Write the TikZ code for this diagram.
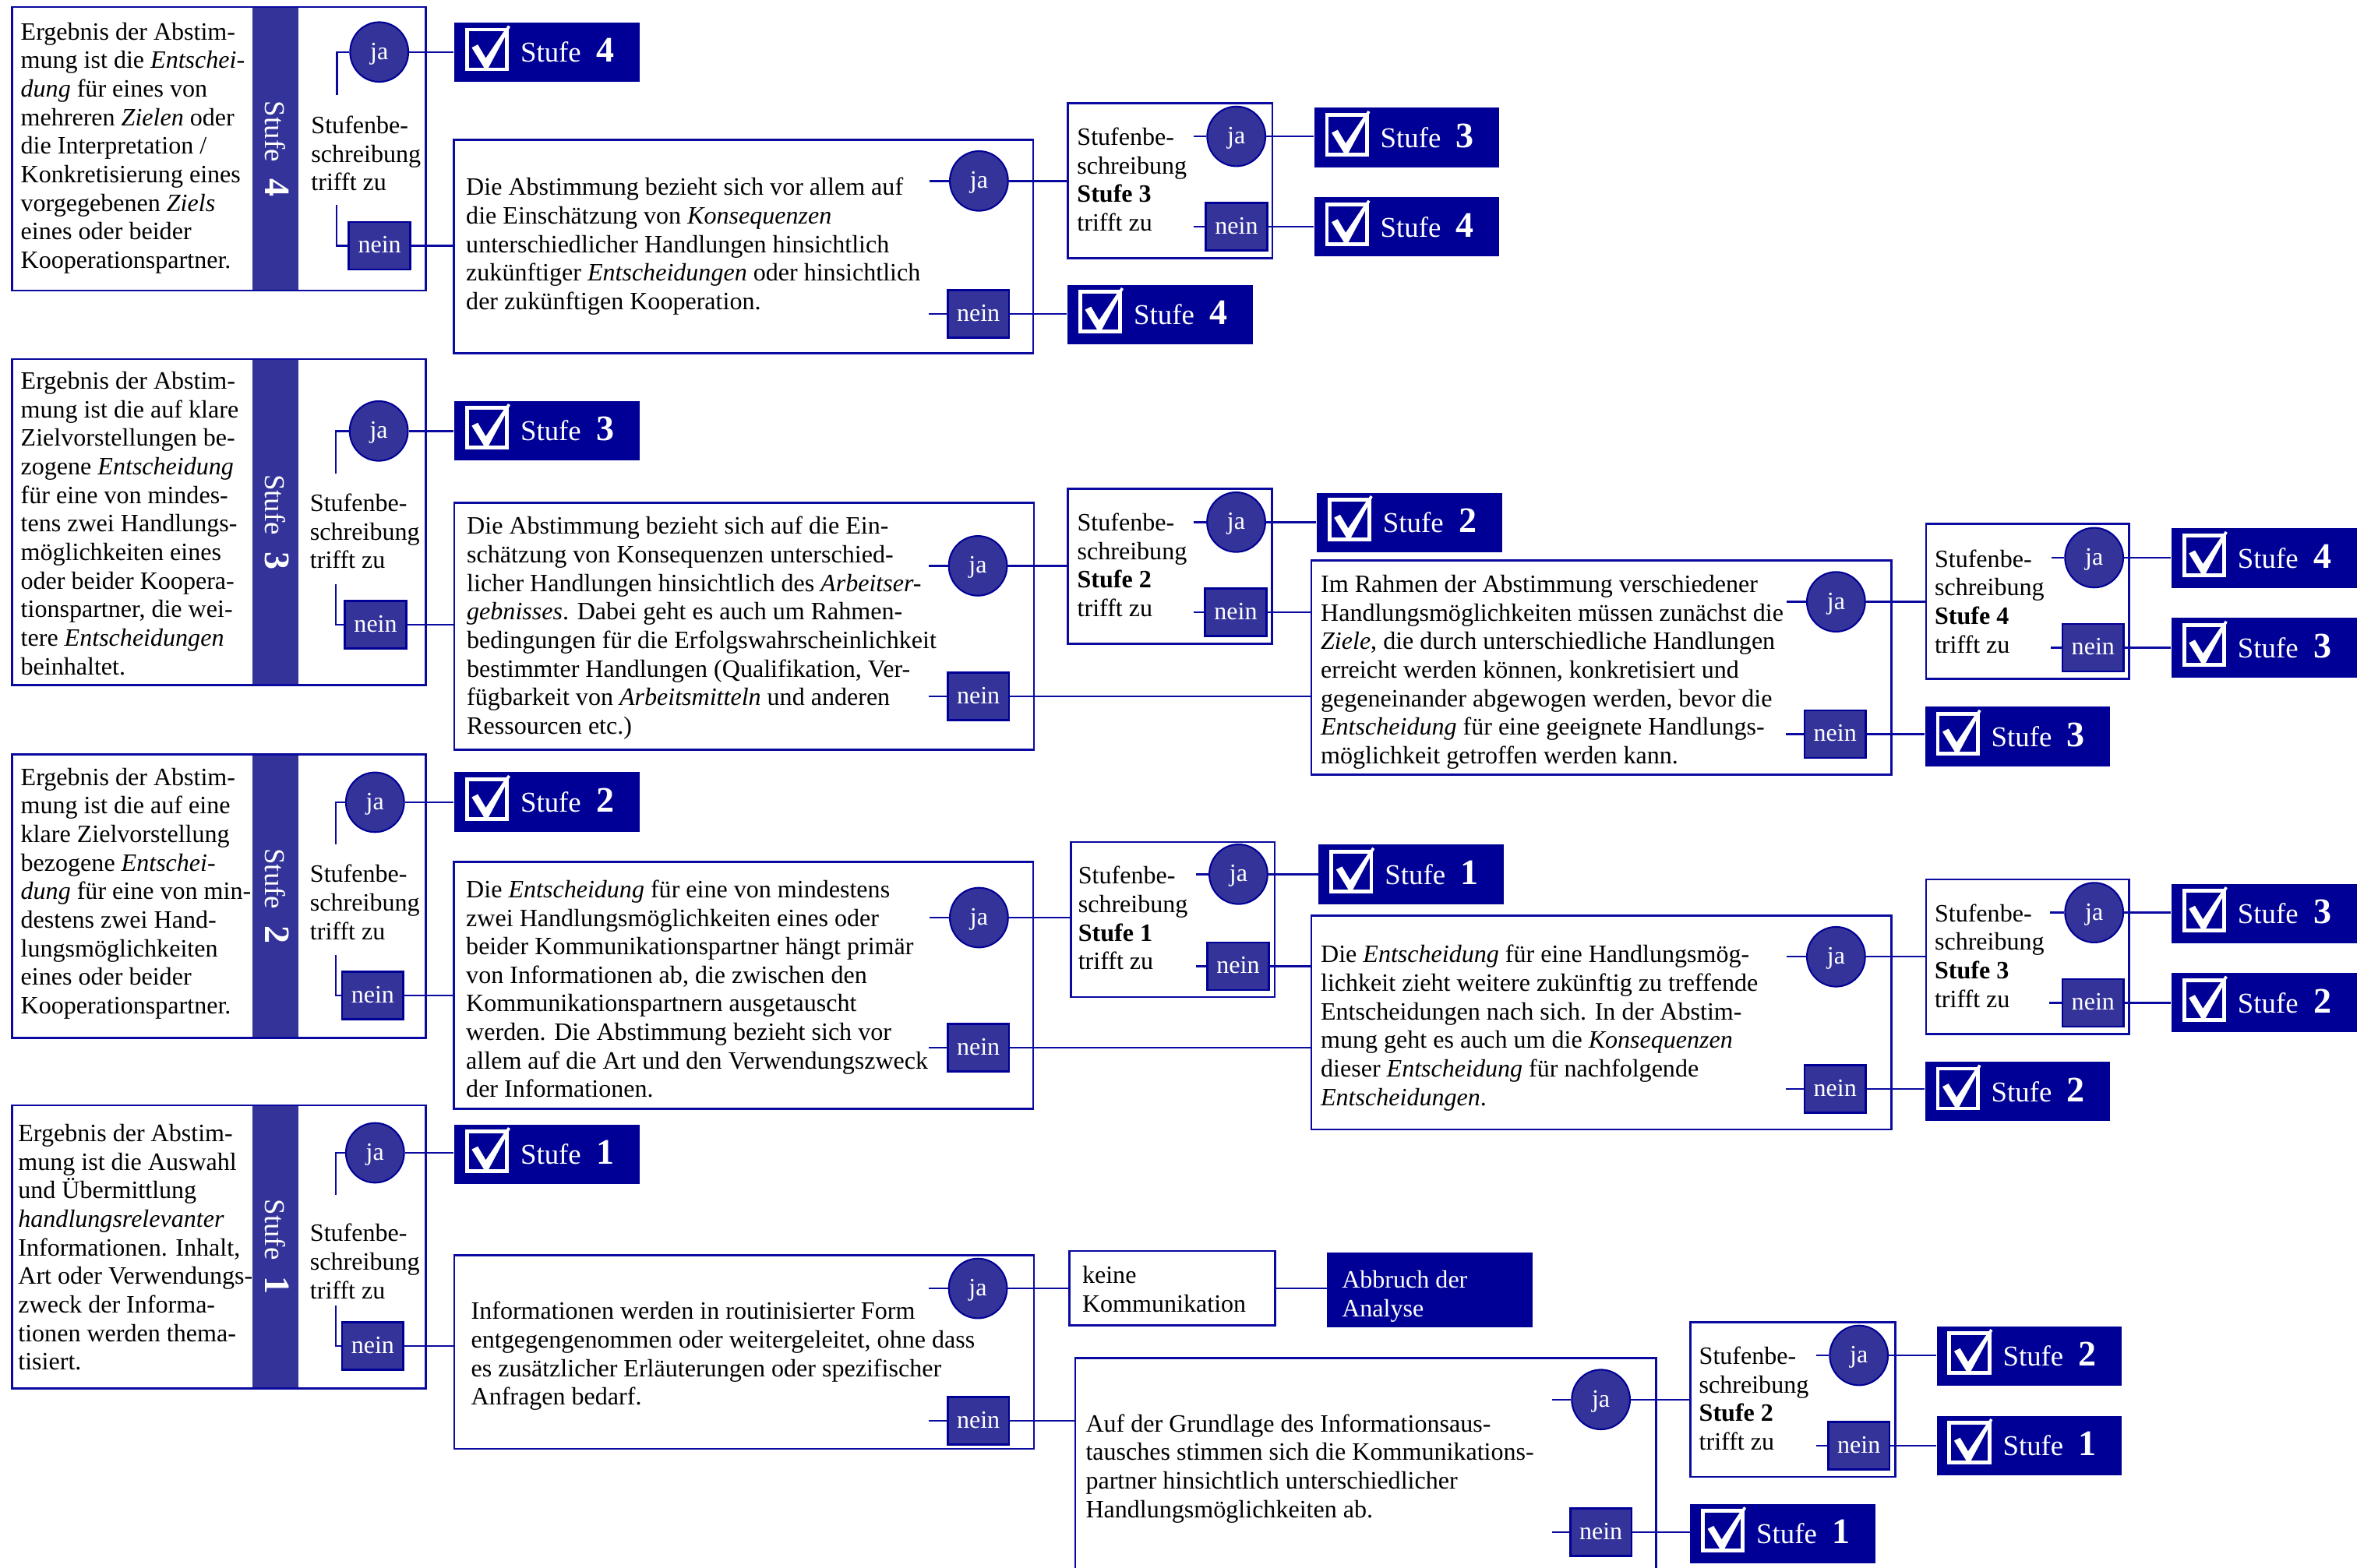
\documentclass[tikz,border=0pt]{standalone}
\usepackage{fontspec}
\setmainfont{Liberation Serif}
\usetikzlibrary{shapes.geometric,fit}
\definecolor{navy}{RGB}{0,0,150}
\definecolor{indigo}{RGB}{51,51,153}
\definecolor{lineblue}{RGB}{10,10,160}
\newcommand\bodyfont{\fontsize{9.4}{10.75}\selectfont}
\newcommand\stufeR[1]{\hspace*{8.76mm}Stufe\hspace{2mm}{\fontsize{13.5}{14}\selectfont\bfseries #1}}
\newcommand\stufeB[1]{Stufe\hspace{2.2mm}{\fontsize{13.5}{14}\selectfont\bfseries #1}}
\newcommand\decText[1]{Stufenbe-\\schreibung\\\textbf{Stufe #1}\\trifft zu}
\newcommand\ppc[2]{([shift={(#1,#2)}]path picture bounding box.north west)}
\begin{document}
\begin{tikzpicture}[x=0.2mm,y=-0.2mm,
 box/.style={draw=lineblue,line width=0.8pt,inner sep=0pt,rectangle},
 conn/.style={draw=lineblue,line width=0.7pt},
 jaN/.style={ellipse,fill=indigo,draw=navy,line width=0.6pt,minimum width=7.7mm,minimum height=7.9mm,inner sep=0pt,text=white,font=\bodyfont,text height=1.45ex,text depth=0.25ex},
 neinN/.style={rectangle,fill=indigo,draw=navy,line width=0.8pt,minimum width=8.1mm,minimum height=6.28mm,inner sep=0pt,text=white,font=\bodyfont,text height=1.45ex,text depth=0.25ex},
 txt/.style={anchor=west,align=left,inner sep=0pt,font=\bodyfont,yshift=-0.5mm,execute at begin node=\strut,execute at end node=\strut},
 wtxt/.style={txt,text=white},
 band/.style={rectangle,fill=indigo,rotate=-90,minimum height=6.1mm,inner sep=0pt,text=white,font=\fontsize{10.8}{12}\selectfont,text height=2.64mm,text depth=0pt},
 res/.style={rectangle,fill=navy,minimum width=24.5mm,minimum height=7.86mm,text width=24.5mm,inner sep=0pt,align=left,text=white,font=\fontsize{10.8}{12}\selectfont,text height=2.64mm,text depth=0pt,
   path picture={
       \draw[white,line width=0.5mm] \ppc{8.4}{4.6} rectangle \ppc{34.8}{30.9};
       \fill[white] \ppc{11.5}{16.5} -- \ppc{15.5}{14.5} -- \ppc{20.8}{23.5} -- \ppc{35.5}{1.8} -- \ppc{37}{2.8} -- \ppc{22.5}{30} -- \ppc{19.8}{30} -- cycle;
     }},
 fillbox/.style={rectangle,fill=navy,inner sep=0pt}
]
\useasboundingbox (0,0) rectangle (1568,1037);
\fill[white] (0,0) rectangle (1568,1037);

% ================= left column =================
% Stufe 4
\node[band,minimum width=37.52mm] (a4b) at (182.2,98.4) {\stufeB{4}};
\node[box,fit={(7.8,4.6) (281.5,192.2)}] (a4) {};
\node[txt] (a4t) at (13.4,96.6) {Ergebnis der Abstim-\\mung ist die \textit{Entschei-}\\\textit{dung} für eines von\\mehreren \textit{Zielen} oder\\die Interpretation /\\Konkretisierung eines\\vorgegebenen \textit{Ziels}\\eines oder beider\\Kooperationspartner.};
\node[txt] (a4s) at (205.5,101.8) {Stufenbe-\\schreibung\\trifft zu};
\node[jaN] (a4ja) at (250.8,34.4) {ja};
\node[neinN] (a4nein) at (251,162.6) {nein};
\draw[conn] (a4ja.west) -- ++(-8.2,0) -- ++(0,28.3);
\draw[conn] (a4nein.west) -- ++(-7.4,0) -- ++(0,-26.9);

% Stufe 3
\node[band,minimum width=43.12mm] (a3b) at (182.2,345.3) {\stufeB{3}};
\node[box,fit={(7.8,237.5) (281.5,453.1)}] (a3) {};
\node[txt] (a3t) at (13.4,346.5) {Ergebnis der Abstim-\\mung ist die auf klare\\Zielvorstellungen be-\\zogene \textit{Entscheidung}\\für eine von mindes-\\tens zwei Handlungs-\\möglichkeiten eines\\oder beider Koopera-\\tionspartner, die wei-\\tere \textit{Entscheidungen}\\beinhaltet.};
\node[txt] (a3s) at (204.7,351.7) {Stufenbe-\\schreibung\\trifft zu};
\node[jaN] (a3ja) at (250.5,285.1) {ja};
\node[neinN] (a3nein) at (248.4,413.3) {nein};
\draw[conn] (a3ja.west) -- ++(-8.6,0) -- ++(0,28.4);
\draw[conn] (a3nein.west) -- ++(-5.5,0) -- ++(0,-26.8);

% Stufe 2
\node[band,minimum width=37.54mm] (a2b) at (182.2,592.85) {\stufeB{2}};
\node[box,fit={(7.8,499) (281.5,686.7)}] (a2) {};
\node[txt] (a2t) at (13.4,589.6) {Ergebnis der Abstim-\\mung ist die auf eine\\klare Zielvorstellung\\bezogene \textit{Entschei-}\\\textit{dung} für eine von min-\\destens zwei Hand-\\lungsmöglichkeiten\\eines oder beider\\Kooperationspartner.};
\node[txt] (a2s) at (204.7,597.2) {Stufenbe-\\schreibung\\trifft zu};
\node[jaN] (a2ja) at (248,530.7) {ja};
\node[neinN] (a2nein) at (246.5,658.4) {nein};
\draw[conn] (a2ja.west) -- ++(-6.1,0) -- ++(0,27.9);
\draw[conn] (a2nein.west) -- ++(-3.6,0) -- ++(0,-26.8);

% Stufe 1
\node[band,minimum width=37.48mm] (a1b) at (182.2,824.9) {\stufeB{1}};
\node[box,fit={(7.8,731.2) (281.5,918.6)}] (a1) {};
\node[txt] (a1t) at (11.7,825.3) {Ergebnis der Abstim-\\mung ist die Auswahl\\und Übermittlung\\\textit{handlungsrelevanter}\\Informationen. Inhalt,\\Art oder Verwendungs-\\zweck der Informa-\\tionen werden thema-\\tisiert.};
\node[txt] (a1s) at (204.7,834.6) {Stufenbe-\\schreibung\\trifft zu};
\node[jaN] (a1ja) at (248,762.6) {ja};
\node[neinN] (a1nein) at (246.5,890.4) {nein};
\draw[conn] (a1ja.west) -- ++(-6.1,0) -- ++(0,28);
\draw[conn] (a1nein.west) -- ++(-3.6,0) -- ++(0,-26.8);

% results of left column
\node[res] (r4a) at (361.7,34.6) {\stufeR{4}};
\node[res] (r3a) at (361.7,284.8) {\stufeR{3}};
\node[res] (r2a) at (361.7,530.5) {\stufeR{2}};
\node[res] (r1a) at (361.7,763.5) {\stufeR{1}};
\draw[conn] (a4ja.east) -- (a4ja.east -| r4a.west);
\draw[conn] (a3ja.east) -- (a3ja.east -| r3a.west);
\draw[conn] (a2ja.east) -- (a2ja.east -| r2a.west);
\draw[conn] (a1ja.east) -- (a1ja.east -| r1a.west);

% ================= D4 branch =================
\node[box,fit={(300,92.4) (683.3,233.5)}] (d4) {};
\node[txt] (d4t) at (307.9,161.5) {Die Abstimmung bezieht sich vor allem auf\\die Einschätzung von \textit{Konsequenzen}\\unterschiedlicher Handlungen hinsichtlich\\zukünftiger \textit{Entscheidungen} oder hinsichtlich\\der zukünftigen Kooperation.};
\node[jaN] (d4ja) at (647.4,119.7) {ja};
\node[neinN] (d4nein) at (647,207.5) {nein};
\draw[conn] (d4ja.west) -- ++(-13,0);
\draw[conn] (d4nein.west) -- ++(-11.8,0);
\draw[conn] (a4nein.east) -- (a4nein.east -| d4.west);

\node[box,fit={(706.3,68.2) (841.5,170.9)}] (s3d) {};
\node[txt] (s3dt) at (712,119) {\decText{3}};
\node[jaN] (s3dja) at (817.6,90.2) {ja};
\node[neinN] (s3dnein) at (817.7,150) {nein};
\draw[conn] (s3dja.west) -- ++(-8.4,0);
\draw[conn] (s3dnein.west) -- ++(-7.5,0);
\node[res] (r3s) at (930.35,91) {\stufeR{3}};
\node[res] (r4s) at (930.35,150.1) {\stufeR{4}};
\node[res] (r4d) at (767.25,208) {\stufeR{4}};
\draw[conn] (d4ja.east) -- (d4ja.east -| s3d.west);
\draw[conn] (d4nein.east) -- (d4nein.east -| r4d.west);
\draw[conn] (s3dja.east) -- (s3dja.east -| r3s.west);
\draw[conn] (s3dnein.east) -- (s3dnein.east -| r4s.west);

% ================= D3 branch =================
\node[box,fit={(300.4,332.7) (683.7,496)}] (d3) {};
\node[txt] (d3t) at (308.4,414) {Die Abstimmung bezieht sich auf die Ein-\\schätzung von Konsequenzen unterschied-\\licher Handlungen hinsichtlich des \textit{Arbeitser-}\\\textit{gebnisses}. Dabei geht es auch um Rahmen-\\bedingungen für die Erfolgswahrscheinlichkeit\\bestimmter Handlungen (Qualifikation, Ver-\\fügbarkeit von \textit{Arbeitsmitteln} und anderen\\Ressourcen etc.)};
\node[jaN] (d3ja) at (646.7,374.3) {ja};
\node[neinN] (d3nein) at (647,460.6) {nein};
\draw[conn] (d3ja.west) -- ++(-12.5,0);
\draw[conn] (d3nein.west) -- ++(-11.8,0);
\draw[conn] (a3nein.east) -- (a3nein.east -| d3.west);

\node[box,fit={(706.3,323.2) (841.2,426)}] (s2d) {};
\node[txt] (s2dt) at (712.1,374) {\decText{2}};
\node[jaN] (s2dja) at (817.5,345.4) {ja};
\node[neinN] (s2dnein) at (817.2,405) {nein};
\draw[conn] (s2dja.west) -- ++(-8.2,0);
\draw[conn] (s2dnein.west) -- ++(-6.9,0);
\node[res] (r2s) at (932,345.6) {\stufeR{2}};
\draw[conn] (d3ja.east) -- (d3ja.east -| s2d.west);
\draw[conn] (s2dja.east) -- (s2dja.east -| r2s.west);

\node[box,fit={(867.2,370.7) (1250.8,512.4)}] (e4) {};
\node[txt] (e4t) at (873.1,443.2) {Im Rahmen der Abstimmung verschiedener\\Handlungsmöglichkeiten müssen zunächst die\\\textit{Ziele}, die durch unterschiedliche Handlungen\\erreicht werden können, konkretisiert und\\gegeneinander abgewogen werden, bevor die\\\textit{Entscheidung} für eine geeignete Handlungs-\\möglichkeit getroffen werden kann.};
\node[jaN] (e4ja) at (1214.2,398.1) {ja};
\node[neinN] (e4nein) at (1213.6,485.6) {nein};
\draw[conn] (e4ja.west) -- ++(-13,0);
\draw[conn] (e4nein.west) -- ++(-11.4,0);
\draw[conn] (s2dnein.east) -- (s2dnein.east -| e4.west);
\draw[conn] (d3nein.east) -- (d3nein.east -| e4.west);

\node[box,fit={(1273.7,346.6) (1407.8,449.2)}] (s4d) {};
\node[txt] (s4dt) at (1279.1,398) {\decText{4}};
\node[jaN] (s4dja) at (1384.9,368.9) {ja};
\node[neinN] (s4dnein) at (1384.2,428.4) {nein};
\draw[conn] (s4dja.west) -- ++(-8.6,0);
\draw[conn] (s4dnein.west) -- ++(-7,0);
\node[res] (r4e) at (1497.3,369.2) {\stufeR{4}};
\node[res] (r3e) at (1497.3,428.4) {\stufeR{3}};
\node[res] (r3f) at (1334.35,487.2) {\stufeR{3}};
\draw[conn] (e4ja.east) -- (e4ja.east -| s4d.west);
\draw[conn] (e4nein.east) -- (e4nein.east -| r3f.west);
\draw[conn] (s4dja.east) -- (s4dja.east -| r4e.west);
\draw[conn] (s4dnein.east) -- (s4dnein.east -| r3e.west);

% ================= D2 branch =================
\node[box,fit={(300,570.2) (683.3,733.4)}] (d2) {};
\node[txt] (d2t) at (307.9,654.4) {Die \textit{Entscheidung} für eine von mindestens\\zwei Handlungsmöglichkeiten eines oder\\beider Kommunikationspartner hängt primär\\von Informationen ab, die zwischen den\\Kommunikationspartnern ausgetauscht\\werden. Die Abstimmung bezieht sich vor\\allem auf die Art und den Verwendungszweck\\der Informationen.};
\node[jaN] (d2ja) at (647.4,607) {ja};
\node[neinN] (d2nein) at (647,693) {nein};
\draw[conn] (d2ja.west) -- ++(-13,0);
\draw[conn] (d2nein.west) -- ++(-11.8,0);
\draw[conn] (a2nein.east) -- (a2nein.east -| d2.west);

\node[box,fit={(708.1,557) (843,659.6)}] (s1d) {};
\node[txt] (s1dt) at (712.7,607.6) {\decText{1}};
\node[jaN] (s1dja) at (819,578.3) {ja};
\node[neinN] (s1dnein) at (818.8,639.2) {nein};
\draw[conn] (s1dja.west) -- ++(-8.3,0);
\draw[conn] (s1dnein.west) -- ++(-6.8,0);
\node[res] (r1s) at (933.3,578.35) {\stufeR{1}};
\draw[conn] (d2ja.east) -- (d2ja.east -| s1d.west);
\draw[conn] (s1dja.east) -- (s1dja.east -| r1s.west);

\node[box,fit={(867.2,605.8) (1250.8,747.2)}] (e3) {};
\node[txt] (e3t) at (873.1,678.5) {Die \textit{Entscheidung} für eine Handlungsmög-\\lichkeit zieht weitere zukünftig zu treffende\\Entscheidungen nach sich. In der Abstim-\\mung geht es auch um die \textit{Konsequenzen}\\dieser \textit{Entscheidung} für nachfolgende\\\textit{Entscheidungen}.};
\node[jaN] (e3ja) at (1214.2,632.9) {ja};
\node[neinN] (e3nein) at (1213.6,720.5) {nein};
\draw[conn] (e3ja.west) -- ++(-13,0);
\draw[conn] (e3nein.west) -- ++(-11.4,0);
\draw[conn] (s1dnein.east) -- (s1dnein.east -| e3.west);
\draw[conn] (d2nein.east) -- (d2nein.east -| e3.west);

\node[box,fit={(1273.7,581.7) (1407.8,684.1)}] (s3bd) {};
\node[txt] (s3bdt) at (1279.1,632.5) {\decText{3}};
\node[jaN] (s3bdja) at (1384.9,603.7) {ja};
\node[neinN] (s3bdnein) at (1384.2,663.4) {nein};
\draw[conn] (s3bdja.west) -- ++(-9.5,0);
\draw[conn] (s3bdnein.west) -- ++(-8.2,0);
\node[res] (r3g) at (1497.3,604.3) {\stufeR{3}};
\node[res] (r2g) at (1497.3,663.3) {\stufeR{2}};
\node[res] (r2h) at (1334.35,722) {\stufeR{2}};
\draw[conn] (e3ja.east) -- (e3ja.east -| s3bd.west);
\draw[conn] (e3nein.east) -- (e3nein.east -| r2h.west);
\draw[conn] (s3bdja.east) -- (s3bdja.east -| r3g.west);
\draw[conn] (s3bdnein.east) -- (s3bdnein.east -| r2g.west);

% ================= D1 branch =================
\node[box,fit={(300.4,830.5) (683.7,958.4)}] (d1) {};
\node[txt] (d1t) at (311.2,895.6) {Informationen werden in routinisierter Form\\entgegengenommen oder weitergeleitet, ohne dass\\es zusätzlicher Erläuterungen oder spezifischer\\Anfragen bedarf.};
\node[jaN] (d1ja) at (646.7,852.3) {ja};
\node[neinN] (d1nein) at (647,940) {nein};
\draw[conn] (d1ja.west) -- ++(-12.5,0);
\draw[conn] (d1nein.west) -- ++(-11.8,0);
\draw[conn] (a1nein.east) -- (a1nein.east -| d1.west);

\node[box,fit={(707.3,827.5) (843.1,876.8)}] (kk) {};
\node[txt] (kkt) at (715.4,853) {keine\\Kommunikation};
\node[fillbox,fit={(877.7,828.7) (1013.4,878.2)}] (ab) {};
\node[wtxt] (abt) at (887.1,856.3) {Abbruch der\\Analyse};
\draw[conn] (d1ja.east) -- (d1ja.east -| kk.west);
\draw[conn] (kk.east) -- (kk.east -| ab.west);

\begin{scope}
\clip (0,0) rectangle (1568,1037);
\node[box,fit={(711.1,898.5) (1095.3,1060)}] (e1) {};
\end{scope}
\node[txt] (e1t) at (717.7,970) {Auf der Grundlage des Informationsaus-\\tausches stimmen sich die Kommunikations-\\partner hinsichtlich unterschiedlicher\\Handlungsmöglichkeiten ab.};
\node[jaN] (e1ja) at (1058.7,925.8) {ja};
\node[neinN] (e1nein) at (1058.7,1013.5) {nein};
\draw[conn] (e1ja.west) -- ++(-12.5,0);
\draw[conn] (e1nein.west) -- ++(-11.5,0);
\draw[conn] (d1nein.east) -- (d1nein.east -| e1.west);

\node[box,fit={(1118,874.6) (1253.4,977)}] (s2cd) {};
\node[txt] (s2cdt) at (1123.3,925.4) {\decText{2}};
\node[jaN] (s2cdja) at (1229.3,896.6) {ja};
\node[neinN] (s2cdnein) at (1229.3,956.3) {nein};
\draw[conn] (s2cdja.west) -- ++(-8.5,0);
\draw[conn] (s2cdnein.west) -- ++(-7.5,0);
\node[res] (r2j) at (1342,897) {\stufeR{2}};
\node[res] (r1j) at (1342,956.2) {\stufeR{1}};
\node[res] (r1k) at (1179,1014.5) {\stufeR{1}};
\draw[conn] (e1ja.east) -- (e1ja.east -| s2cd.west);
\draw[conn] (e1nein.east) -- (e1nein.east -| r1k.west);
\draw[conn] (s2cdja.east) -- (s2cdja.east -| r2j.west);
\draw[conn] (s2cdnein.east) -- (s2cdnein.east -| r1j.west);
\end{tikzpicture}
\end{document}
